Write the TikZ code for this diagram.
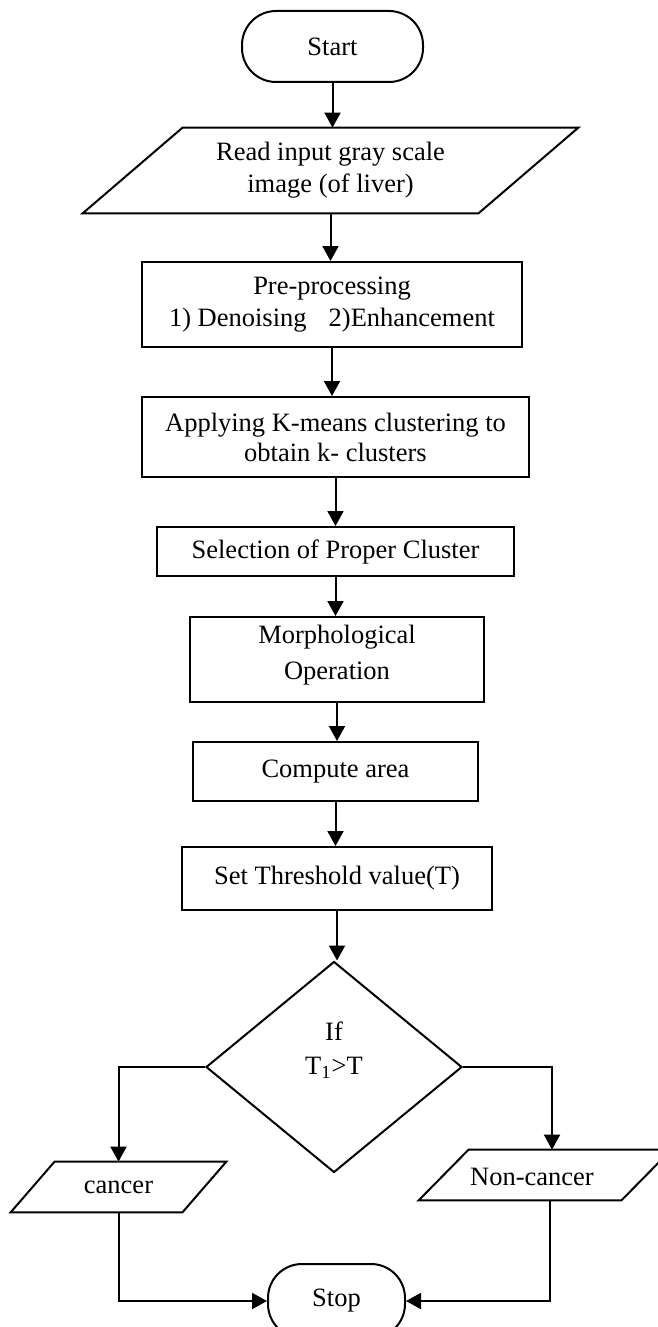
\documentclass[tikz,border=0pt]{standalone}
\usepackage{fontspec}
\setmainfont{Liberation Serif}
\usetikzlibrary{shapes.geometric,arrows.meta}
\begin{document}
\begin{tikzpicture}[x=0.5pt,y=-0.5pt,
  every node/.style={font=\fontsize{13.25pt}{16pt}\selectfont, inner sep=0pt, align=center},
  box/.style={draw, line width=1pt, rectangle},
  term/.style={draw, line width=1pt, rectangle, rounded corners=17pt},
  ghost/.style={rectangle},
  conn/.style={line width=1pt, -{Triangle[width=8pt,length=7.5pt]}},
  plain/.style={line width=1pt, line join=miter}
]
\useasboundingbox (0,0) rectangle (658,1327);
\clip (0,0) rectangle (658,1327);

% terminals and process boxes
\node[term, minimum width=90.5pt, minimum height=35.5pt] (start) at (332.5,46.5) {Start};
\node[ghost, minimum width=197.5pt, minimum height=42.5pt] (read) at (330.5,170.5) {Read input gray scale\\image (of liver)};
\draw[plain] ([xshift=25pt]read.north west) -- ([xshift=25pt]read.north east) -- ([xshift=-25pt]read.south east) -- ([xshift=-25pt]read.south west) -- cycle;

\node[box, minimum width=190pt, minimum height=42.5pt] (pre) at (332,304.5) {Pre-processing\\1) Denoising\hspace{11pt}2)Enhancement};
\node[box, minimum width=193.5pt, minimum height=40pt] (apply) at (335.5,437) {Applying K-means clustering to\\[-1pt]obtain k- clusters};
\node[box, minimum width=178.5pt, minimum height=24.5pt] (sel) at (335.5,551.5) {Selection of Proper Cluster};
\node[box, minimum width=147pt, minimum height=42.5pt] (morph) at (337,659.5) {};
\node (morpht) at (337,655) {Morphological\\[2pt]Operation};
\node[box, minimum width=142.5pt, minimum height=29.5pt] (comp) at (335.5,771.5) {Compute area};
\node[box, minimum width=155pt, minimum height=31.5pt] (thr) at (337,878.5) {Set Threshold value(T)};

% decision
\node[draw, diamond, line width=1pt, minimum width=128pt, minimum height=105.5pt] (dec) at (334,1067) {};
\node (dect) at (334,1050) {If\\[1pt]T\textsubscript{1}>T};

% outputs
\node[ghost, minimum width=85.5pt, minimum height=25pt] (can) at (118.5,1187) {cancer};
\draw[plain] ([xshift=11pt]can.north west) -- ([xshift=11pt]can.north east) -- ([xshift=-11pt]can.south east) -- ([xshift=-11pt]can.south west) -- cycle;

\node[ghost, minimum width=101pt, minimum height=25pt] (non) at (545,1175) {};
\draw[plain] ([xshift=12.5pt]non.north west) -- ([xshift=12.5pt]non.north east) -- ([xshift=-12.5pt]non.south east) -- ([xshift=-12.5pt]non.south west) -- cycle;
\node (nont) at (532,1177) {Non-cancer};

\node[term, minimum width=68.5pt, minimum height=37pt] (stop) at (336.5,1301) {Stop};

% connectors
\draw[conn] (start.south) -- (start.south |- read.north);
\draw[conn] (read.south) -- (read.south |- pre.north);
\draw[conn] (pre.south) -- (pre.south |- apply.north);
\draw[conn] (apply.south) -- (apply.south |- sel.north);
\draw[conn] (sel.south) -- (sel.south |- morph.north);
\draw[conn] (morph.south) -- (morph.south |- comp.north);
\draw[conn] (comp.south) -- (comp.south |- thr.north);
\draw[conn] (thr.south) -- (thr.south |- dec.north);
\draw[conn] (dec.west) -| (can.north);
\draw[conn] (dec.east) -| ([xshift=3.5pt]non.north);
\draw[conn] (can.south) |- (stop.west);
\draw[conn] ([xshift=2.5pt]non.south) |- (stop.east);
\end{tikzpicture}
\end{document}
